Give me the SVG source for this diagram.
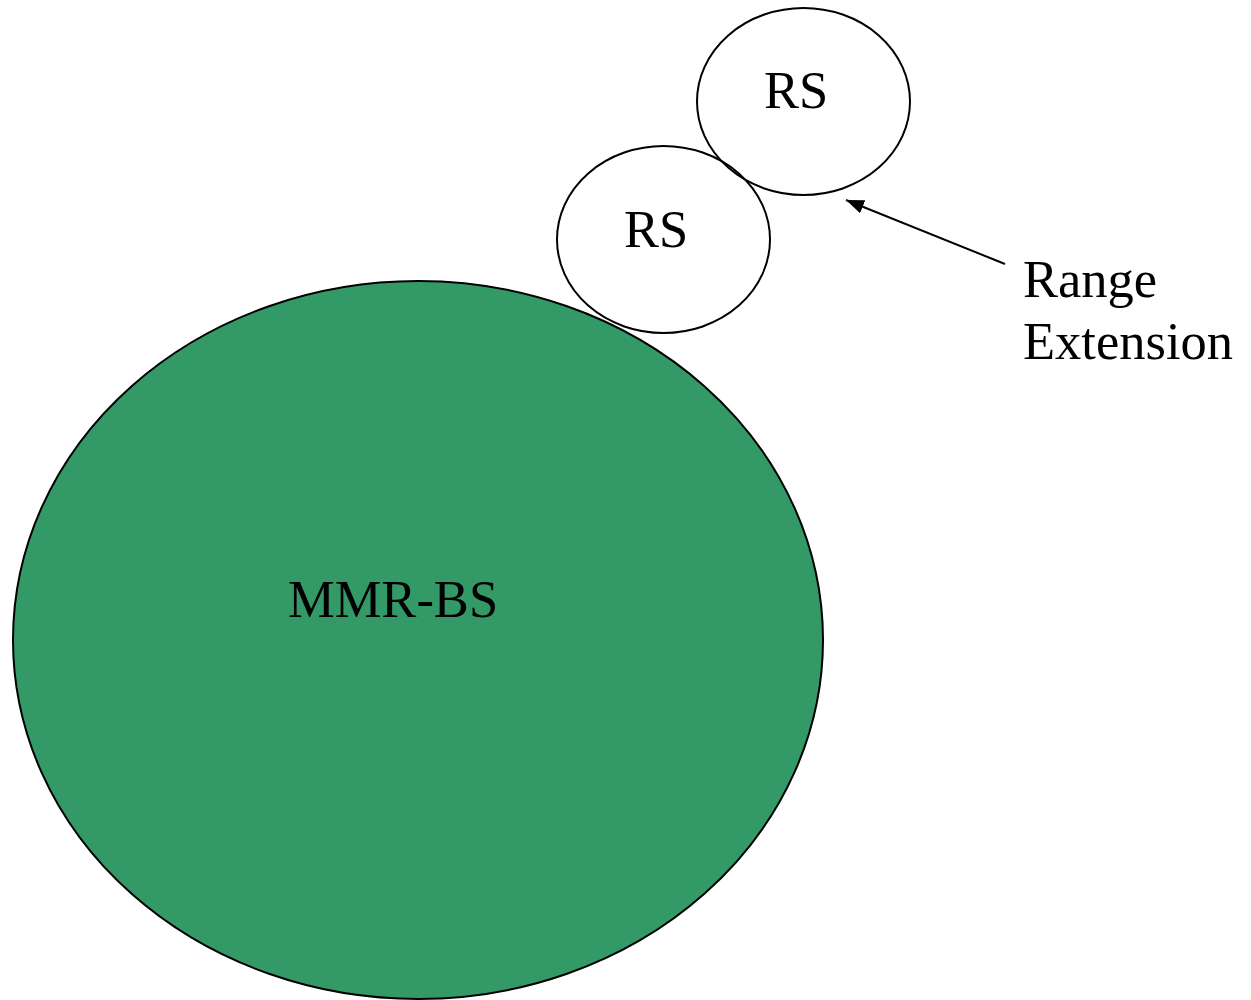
<svg xmlns="http://www.w3.org/2000/svg" width="1251" height="1000" viewBox="0 0 1251 1000">
<style>
.lbl{font-family:"Liberation Serif","Times New Roman",serif;font-size:52.5px;fill:#000}
.rs{fill:none;stroke:#000;stroke-width:2}
</style>
<defs>
<marker id="ah" viewBox="0 0 10 10" refX="10" refY="5" markerWidth="18" markerHeight="14" markerUnits="userSpaceOnUse" orient="auto" preserveAspectRatio="none">
<path d="M0,0 L10,5 L0,10 z" fill="#000"/>
</marker>
</defs>
<rect width="1251" height="1000" fill="#fff"/>
<g id="mmr-bs">
<ellipse cx="418" cy="640" rx="405" ry="359" fill="#339966" stroke="#000" stroke-width="2"/>
<text class="lbl" x="288" y="617">MMR-BS</text>
</g>
<g id="rs1">
<ellipse class="rs" cx="663.5" cy="239.5" rx="106.5" ry="93.5"/>
<text class="lbl" x="624" y="247">RS</text>
</g>
<g id="rs2">
<ellipse class="rs" cx="803.5" cy="101.5" rx="106.5" ry="93.5"/>
<text class="lbl" x="764" y="108">RS</text>
</g>
<g id="range-extension">
<text class="lbl" x="1023" y="297">Range</text>
<text class="lbl" x="1023" y="359">Extension</text>
</g>
<g id="connectors">
<line x1="1005" y1="264" x2="846" y2="200" stroke="#000" stroke-width="2" marker-end="url(#ah)"/>
</g>
</svg>
